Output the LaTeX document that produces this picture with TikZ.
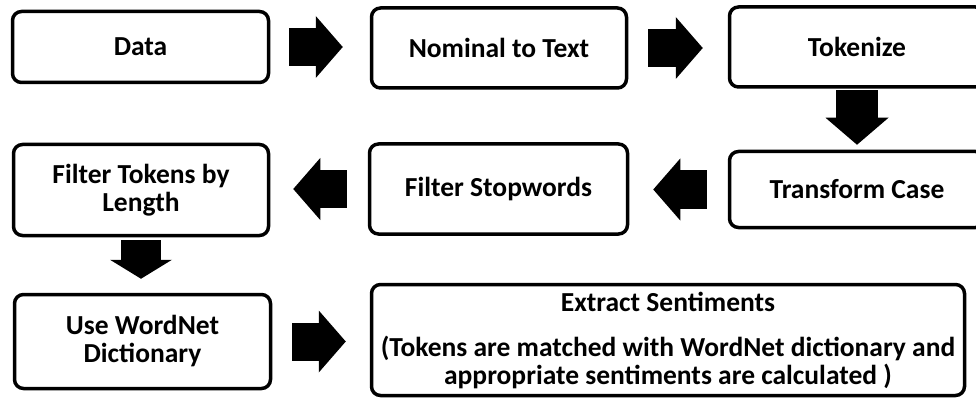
\documentclass[tikz,border=0pt]{standalone}
\usepackage{fontspec}
\setmainfont{Carlito}
\usetikzlibrary{arrows.meta}
\tikzset{
  box/.style={draw, line width=3.5pt, rounded corners=9pt, inner sep=0pt, align=center,
    font=\bfseries\fontsize{27.5}{28}\selectfont},
  blk/.style={line width=38pt, -{Triangle[length=27pt, width=62pt, line width=0pt]}},
}
\begin{document}
\begin{tikzpicture}[x=1pt,y=-1pt]
\useasboundingbox (0,0) rectangle (976,398);
% row 1
\node[box, minimum width=256pt, minimum height=71pt] (data) at (140.5,47) {Data};
\node[box, minimum width=255pt, minimum height=80pt] (nom) at (499,48) {Nominal to Text};
\node[box, minimum width=255pt, minimum height=80pt] (tok) at (857,47) {Tokenize};
% row 2
\node[box, minimum width=255pt, minimum height=91pt] (ft) at (141,190) {Filter Tokens by\\Length};
\node[box, minimum width=258pt, minimum height=90pt] (fs) at (498.5,189) {Filter Stopwords};
\node[box, minimum width=255pt, minimum height=76pt] (tc) at (857,189.5) {Transform Case};
% row 3
\node[box, minimum width=256pt, minimum height=94pt] (uw) at (142.5,341.5) {Use WordNet\\Dictionary};
\node[box, minimum width=593pt, minimum height=111pt] (ex) at (668,340) {Extract Sentiments\\[17pt](Tokens are matched with WordNet dictionary and\\appropriate sentiments are calculated )};
% block arrows
\draw[blk, shorten <=19pt, shorten >=27pt] (data.east) -- (data.east -| nom.west);
\draw[blk, shorten <=20pt, shorten >=25pt] (nom.east) -- (nom.east -| tok.west);
\draw[blk, line width=42pt, -{Triangle[length=27pt, width=63pt, line width=0pt]}, shorten <=1.5pt, shorten >=5pt] (tok.south) -- (tok.south |- tc.north);
\draw[blk, shorten <=21pt, shorten >=24pt] (tc.west) -- (tc.west -| fs.east);
\draw[blk, shorten <=21pt, shorten >=23pt] (fs.west) -- (fs.west -| ft.east);
\draw[blk, line width=40pt, -{Triangle[length=19pt, width=62pt, line width=0pt]}, shorten <=3pt, shorten >=14pt] (ft.south) -- (ft.south |- uw.north);
\draw[blk, shorten <=20pt, shorten >=24pt] (uw.east) -- (uw.east -| ex.west);
\end{tikzpicture}
\end{document}
